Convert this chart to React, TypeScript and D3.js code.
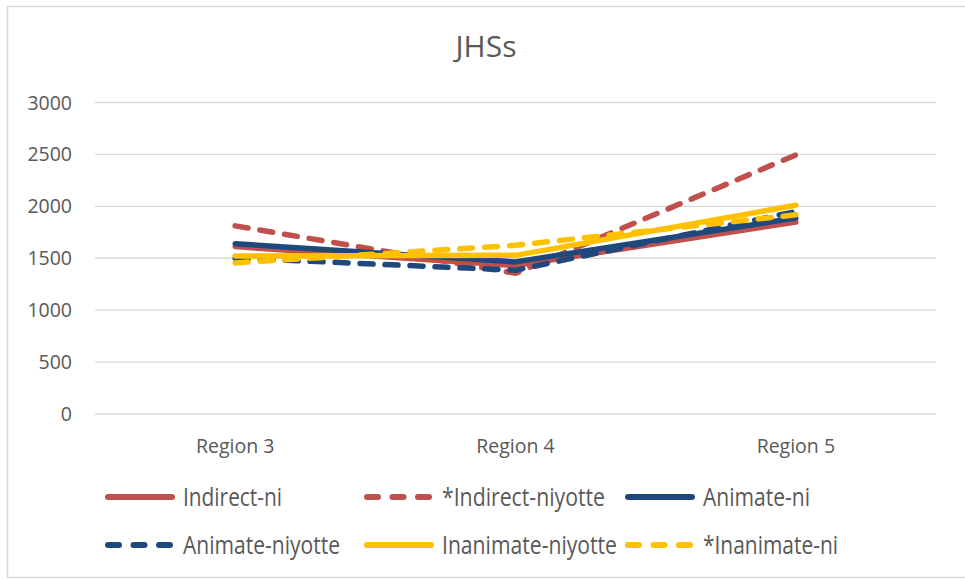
import React, { useEffect, useRef } from "react";
import * as d3 from "d3";

const regions = ["Region 3", "Region 4", "Region 5"];
const yTicks = [0, 500, 1000, 1500, 2000, 2500, 3000];

const indirectNi = [1612, 1430, 1850];
const indirectNiyotte = [1812, 1355, 2495];
const animateNi = [1640, 1465, 1888];
const animateNiyotte = [1502, 1385, 1950];
const inanimateNiyotte = [1522, 1528, 2010];
const inanimateNi = [1455, 1625, 1918];

const seriesNames = [
  "Indirect-ni",
  "*Indirect-niyotte",
  "Animate-ni",
  "Animate-niyotte",
  "Inanimate-niyotte",
  "*Inanimate-ni",
];
const seriesValues = [indirectNi, indirectNiyotte, animateNi, animateNiyotte, inanimateNiyotte, inanimateNi];
const seriesColors = ["#C0504D", "#C0504D", "#1F497D", "#1F497D", "#FFC000", "#FFC000"];
const seriesDashed = [false, true, false, true, false, true];
// measured legend label widths (the legend font is condensed)
const legendWidths = [99, 163, 107, 157, 175, 135];

function App() {
  const svgRef = useRef(null);

  useEffect(() => {
    let svg = d3.select(svgRef.current);
    svg.selectAll("*").remove();
    const font = "'Open Sans', sans-serif";
    const textColor = "#595959";

    // chart frame
    svg
      .append("rect")
      .attr("x", 7.5)
      .attr("y", 6.5)
      .attr("width", 960)
      .attr("height", 571)
      .attr("fill", "white")
      .attr("stroke", "#d9d9d9")
      .attr("stroke-width", 1.5);

    svg
      .append("text")
      .attr("x", 486)
      .attr("y", 57)
      .attr("text-anchor", "middle")
      .attr("font-family", font)
      .attr("font-size", 30)
      .attr("fill", textColor)
      .text("JHSs");

    let xScale = d3.scalePoint().domain(regions).range([95, 936]).padding(0.5);
    let yScale = d3.scaleLinear().domain([0, 3000]).range([414, 102.5]);

    // gridlines
    svg
      .append("g")
      .selectAll("line")
      .data(yTicks)
      .enter()
      .append("line")
      .attr("x1", 95)
      .attr("x2", 936)
      .attr("y1", (d) => yScale(d))
      .attr("y2", (d) => yScale(d))
      .attr("stroke", "#d9d9d9")
      .attr("stroke-width", 1.3);

    svg
      .append("g")
      .selectAll("text")
      .data(yTicks)
      .enter()
      .append("text")
      .attr("x", 72)
      .attr("y", (d) => yScale(d))
      .attr("dy", "0.36em")
      .attr("text-anchor", "end")
      .attr("font-family", font)
      .attr("font-size", 19.5)
      .attr("fill", textColor)
      .text((d) => d);

    svg
      .append("g")
      .selectAll("text")
      .data(regions)
      .enter()
      .append("text")
      .attr("x", (d) => xScale(d))
      .attr("y", 453)
      .attr("text-anchor", "middle")
      .attr("font-family", font)
      .attr("font-size", 19.5)
      .attr("fill", textColor)
      .text((d) => d);

    let line = d3
      .line()
      .x((d, i) => xScale(regions[i]))
      .y((d) => yScale(d));

    seriesValues.forEach((vals, i) => {
      svg
        .append("path")
        .attr("d", line(vals))
        .attr("fill", "none")
        .attr("stroke", seriesColors[i])
        .attr("stroke-width", 5.5)
        .attr("stroke-linecap", "round")
        .attr("stroke-linejoin", "round")
        .attr("stroke-dasharray", seriesDashed[i] ? "13 12" : null);
    });

    // legend
    const legendX = [105, 364, 625];
    const legendY = [497, 545];
    seriesNames.forEach((name, i) => {
      let lx = legendX[i % 3];
      let ly = legendY[Math.floor(i / 3)];
      let g = svg.append("g");
      g.append("line")
        .attr("x1", lx + 3)
        .attr("x2", lx + 67)
        .attr("y1", ly)
        .attr("y2", ly)
        .attr("stroke", seriesColors[i])
        .attr("stroke-width", 6)
        .attr("stroke-linecap", "round")
        .attr("stroke-dasharray", seriesDashed[i] ? "11 14.5" : null);
      g.append("text")
        .attr("x", lx + 78)
        .attr("y", ly + 9)
        .attr("font-family", font)
        .attr("font-size", 25)
        .attr("textLength", legendWidths[i])
        .attr("lengthAdjust", "spacingAndGlyphs")
        .attr("fill", textColor)
        .text(name);
    });
  }, []);

  return <svg ref={svgRef} width={965} height={580} style={{ position: "absolute", left: 0, top: 0 }} />;
}

export default App;
